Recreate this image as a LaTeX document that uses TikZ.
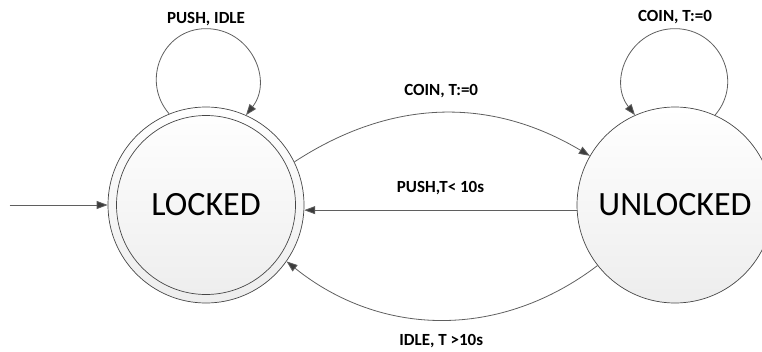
\documentclass[tikz,border=0pt]{standalone}
\usepackage{fontspec}
\setmainfont{Carlito}
\usetikzlibrary{arrows.meta, positioning}
\definecolor{statedraw}{RGB}{70,70,70}
\definecolor{transgray}{RGB}{95,95,95}
\definecolor{tipgray}{RGB}{60,60,60}
\tikzset{
  % State circle with soft shading
  state/.style={
    circle, draw=statedraw, line width=0.7pt, minimum size=196pt, inner sep=0pt,
    top color=white, bottom color=black!7, font=\fontsize{34}{40}\selectfont
  },
  innerring/.style={
    circle, draw=statedraw, line width=0.7pt, minimum size=179pt, inner sep=0pt,
    font=\fontsize{34}{40}\selectfont
  },
  trans/.style={-{Triangle[length=11pt, width=8pt, fill=tipgray]}, line width=0.8pt, color=transgray},
  lbl/.style={font=\fontsize{17}{20}\selectfont\bfseries, text=black, inner sep=2pt}
}
\begin{document}
\begin{tikzpicture}[x=1pt, y=-1pt]
  \useasboundingbox (0,0) rectangle (762,351);

  % States
  \node[state] (locked) at (206,205) {};
  \node[innerring] (lockedin) at (locked) {LOCKED};
  \node[state, on grid, right=469pt of locked] (unlocked) {UNLOCKED};

  % Initial arrow
  \coordinate[left=98pt of locked.west] (start);
  \draw[trans] (start) -- (locked.west);

  % Self loops (top points of the loops)
  \coordinate[above=78pt of locked.north] (lockloop);
  \coordinate[above=78pt of unlocked.north] (unlockloop);
  \draw[trans] (locked.112) to[out=131, in=180, looseness=1.2] (lockloop)
    node[lbl, above=0pt] {PUSH, IDLE}
    to[out=0, in=52, looseness=1.2] (locked.66);
  \draw[trans] (unlocked.66) to[out=49, in=0, looseness=1.2] (unlockloop)
    node[lbl, above=2pt] {COIN, T:=0}
    to[out=180, in=128, looseness=1.2] (unlocked.114);

  % Transitions between states
  \draw[trans] (locked.26) to[bend left=32]
    node[lbl, above=13pt] {COIN, T:=0} (unlocked.150);
  \draw[trans] (unlocked.183) -- node[lbl, above=13pt] {PUSH,T< 10s} (locked.357);
  \draw[trans] (unlocked.218) to[bend left=38]
    node[lbl, below=12pt] {IDLE, T >10s} (locked.325);
\end{tikzpicture}
\end{document}
